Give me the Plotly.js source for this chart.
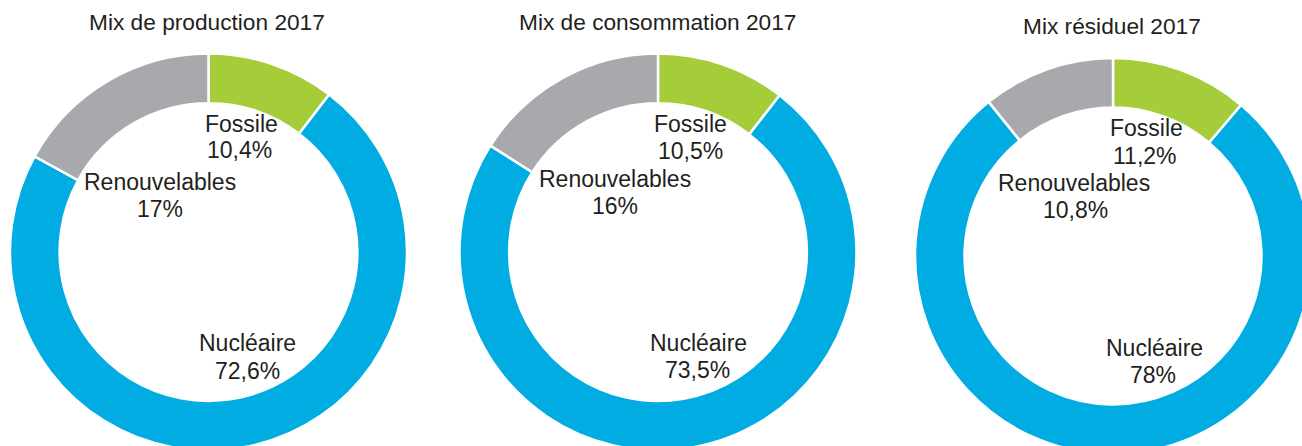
<!DOCTYPE html>
<html>
<head>
<meta charset="utf-8">
<script src="https://cdn.plot.ly/plotly-3.0.1.min.js"></script>
<style>
  html, body { margin: 0; padding: 0; overflow: hidden; background: #fff; }
  #chart { width: 1320px; height: 470px; }
</style>
</head>
<body>
<div id="chart"></div>
<script>
// ---- data ----
var categories = ["Fossile", "Nucléaire", "Renouvelables"];
var titles = ["Mix de production 2017", "Mix de consommation 2017", "Mix résiduel 2017"];
var production = [10.4, 72.6, 17];
var consommation = [10.5, 73.5, 16];
var residuel = [11.2, 78, 10.8];
var colors = ["#a5cd39", "#00ace2", "#a7a9ac"];

// ---- layout (pixels) ----
var W = 1320, H = 470;
var FONT = '"Liberation Sans", Arial, Helvetica, sans-serif';
var TXT = "#231f20";
var series = [production, consommation, residuel];
// donut geometry: center x, center y, outer radius
var geo = [
  {cx: 208.5, cy: 252, r: 198.5},
  {cx: 658, cy: 252, r: 198.5},
  {cx: 1113, cy: 256, r: 198}
];
var titlePos = [[206.5, 21.5], [657, 22.5], [1111.5, 26]];
// label positions per chart, per category: [name x, name y, value x, value y]
var labelPos = [
  [[241, 123.5, 239, 150], [248, 343, 248, 371], [160, 182, 160, 209]],
  [[690, 124, 690, 151], [698, 343, 697.5, 370], [615, 179, 615, 206]],
  [[1146, 128, 1145, 156], [1154, 348, 1153, 375], [1074, 182.5, 1075, 210]]
];

function px(x) { return x / W; }
function py(y) { return 1 - y / H; }
function fmt(v) { return String(v).replace(".", ",") + "%"; }

var traces = [];
var annotations = [];
series.forEach(function (vals, i) {
  var g = geo[i];
  traces.push({
    type: "pie",
    labels: categories,
    values: vals,
    sort: false,
    direction: "clockwise",
    rotation: 0,
    hole: 0.75,
    textinfo: "none",
    hoverinfo: "label+percent",
    marker: { colors: colors, line: { color: "#ffffff", width: 2.5 } },
    domain: {
      x: [px(g.cx - g.r), px(g.cx + g.r)],
      y: [py(g.cy + g.r), py(g.cy - g.r)]
    },
    showlegend: false
  });
  annotations.push({
    text: titles[i], xref: "paper", yref: "paper",
    x: px(titlePos[i][0]), y: py(titlePos[i][1]),
    xanchor: "center", yanchor: "middle", showarrow: false,
    font: { family: FONT, size: 22.7, color: TXT }
  });
  categories.forEach(function (c, j) {
    var p = labelPos[i][j];
    annotations.push({
      text: c, xref: "paper", yref: "paper",
      x: px(p[0]), y: py(p[1]), xanchor: "center", yanchor: "middle",
      showarrow: false, font: { family: FONT, size: 23, color: TXT }
    });
    annotations.push({
      text: fmt(vals[j]), xref: "paper", yref: "paper",
      x: px(p[2]), y: py(p[3]), xanchor: "center", yanchor: "middle",
      showarrow: false, font: { family: FONT, size: 23, color: TXT }
    });
  });
});

var layout = {
  width: W, height: H,
  margin: { l: 0, r: 0, t: 0, b: 0, pad: 0 },
  paper_bgcolor: "#ffffff",
  plot_bgcolor: "#ffffff",
  font: { family: FONT, color: TXT },
  annotations: annotations,
  showlegend: false
};

Plotly.newPlot("chart", traces, layout, { displayModeBar: false, staticPlot: true });
</script>
</body>
</html>
